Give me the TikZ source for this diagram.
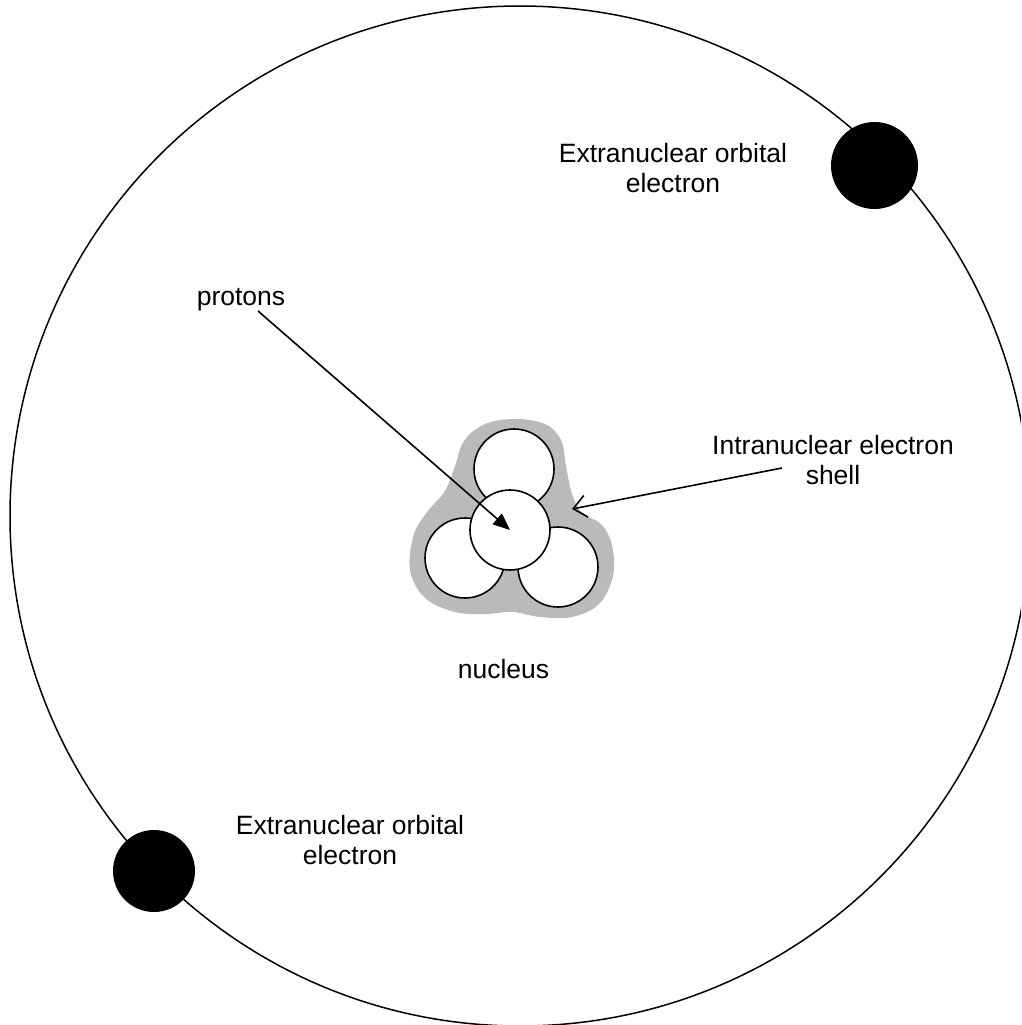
\documentclass[tikz,border=0pt]{standalone}
\usepackage{fontspec}
\setmainfont{Liberation Sans}
\usetikzlibrary{arrows.meta}
\tikzset{
  lbl/.style={font=\fontsize{26.5}{30.5}\selectfont, align=center, inner sep=0pt},
  proton/.style={circle, draw=black, fill=white, line width=1.6pt, minimum size=80pt, inner sep=0pt},
  electronball/.style={circle, fill=black, inner sep=0pt},
  ptr/.style={line width=1.6pt},
}
\begin{document}
\begin{tikzpicture}[x=1pt,y=-1pt]
\useasboundingbox (0,0) rectangle (1021,1025);
\clip (0,0) rectangle (1021,1025);
\fill[white] (0,0) rectangle (1021,1025);
% orbit
\draw[line width=1.5pt] (520,516) circle[radius=510];
% electrons
\node[electronball, minimum size=87pt] (e1) at (874.5,165.5) {};
\node[electronball, minimum size=82pt] (e2) at (154,871) {};
% nucleus shell
\fill[black!27] plot[smooth cycle, tension=0.6] coordinates {
 (515,419) (545,424) (561,440) (566,466) (572,494) (582,513) (601,524) (612,545)
 (613,576) (599,604) (572,617) (540,617) (513,612) (486,614) (455,612) (425,598)
 (410,570) (414,534) (428,511) (445,491) (455,466) (464,441) (485,424)};
% protons
\node[proton] (pt) at (514,469) {};
\node[proton] (pl) at (465,558) {};
\node[proton] (pr) at (558,567) {};
\node[proton] (pc) at (510,530) {};
% labels
\node[lbl, anchor=north] (lab1) at (673,143) {Extranuclear orbital\\electron};
\node[lbl, anchor=north] (lab2) at (350,815) {Extranuclear orbital\\electron};
\node[lbl, anchor=north] (lab3) at (833,435) {Intranuclear electron\\shell};
\node[lbl, anchor=base] (lab4) at (241,305) {protons};
\node[lbl, anchor=base] (lab5) at (503.5,678) {nucleus};
% arrows
\coordinate (ps) at (258,311);
\coordinate (ss) at (782,468);
\coordinate (st) at (572,509);
\draw[ptr, -{Triangle[length=17pt,width=14pt]}] (ps) -- (pc.center);
\draw[ptr, -{Straight Barb[length=13pt,width=22pt]}] (ss) -- (st);
\end{tikzpicture}
\end{document}
